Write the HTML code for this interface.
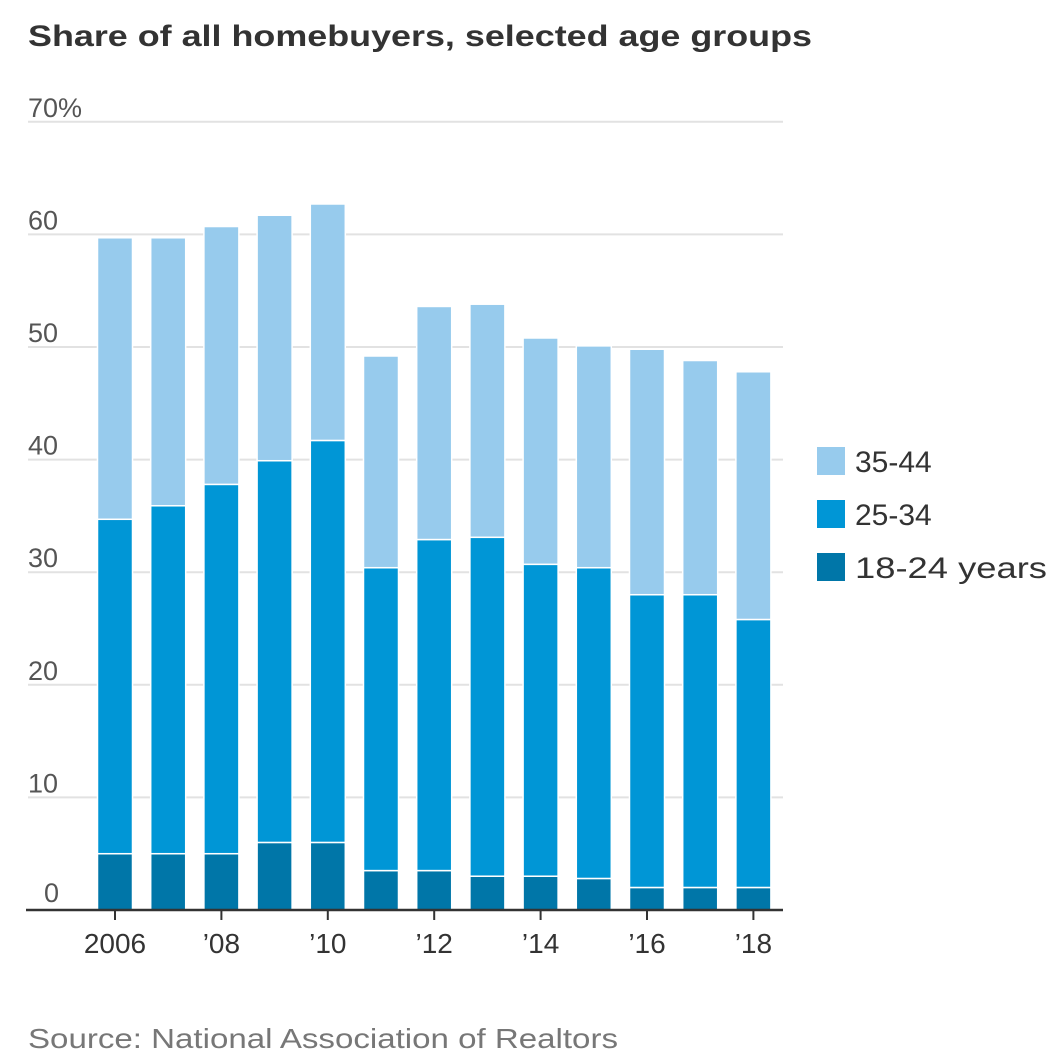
<!DOCTYPE html>
<html><head><meta charset="utf-8"><style>
html,body{margin:0;padding:0;background:#fff;width:1058px;height:1054px;overflow:hidden}
svg text{font-family:"Liberation Sans",sans-serif}
</style></head><body>
<svg id="chart" width="1058" height="1054" xmlns="http://www.w3.org/2000/svg">
<text x="28" y="46" font-size="30" font-weight="bold" fill="#333" textLength="784" lengthAdjust="spacingAndGlyphs">Share of all homebuyers, selected age groups</text>
<g id="grid"></g><g id="bars"></g><g id="axis"></g>
<g>
<rect x="817" y="447" width="28" height="28" fill="#97cbed"/>
<text x="855" y="472" font-size="30" fill="#333">35-44</text>
<rect x="817" y="500" width="28" height="28" fill="#0096d6"/>
<text x="855" y="525" font-size="30" fill="#333">25-34</text>
<rect x="817" y="553" width="28" height="28" fill="#0076a8"/>
<text x="855" y="578" font-size="30" fill="#333" textLength="192" lengthAdjust="spacingAndGlyphs">18-24 years</text>
</g>
<text x="28" y="1048" font-size="28" fill="#777" textLength="590" lengthAdjust="spacingAndGlyphs">Source: National Association of Realtors</text>
</svg>
<script>
const years=[2006,2007,2008,2009,2010,2011,2012,2013,2014,2015,2016,2017,2018];
const age18to24=[5,5,5,6,6,3.5,3.5,3,3,2.8,2,2,2];
const age25to34=[29.7,30.9,32.8,33.9,35.7,26.9,29.4,30.1,27.7,27.6,26,26,23.8];
const age35to44=[25,23.8,22.9,21.8,21,18.8,20.7,20.7,20.1,19.7,21.8,20.8,22];
const yTicks=[0,10,20,30,40,50,60,70];
const xLabels={2006:"2006",2008:"’08",2010:"’10",2012:"’12",2014:"’14",2016:"’16",2018:"’18"};
const NS="http://www.w3.org/2000/svg";
const y0=910,pxPer=11.26,x0=115,step=53.2,bw=35;
const yS=v=>y0-v*pxPer, xS=i=>x0+i*step;
function mk(tag,attrs,parent,txt){const e=document.createElementNS(NS,tag);for(const k in attrs)e.setAttribute(k,attrs[k]);if(txt!=null)e.textContent=txt;parent.appendChild(e);return e;}
const grid=document.getElementById('grid'),bars=document.getElementById('bars'),axis=document.getElementById('axis');
yTicks.forEach(t=>{
 if(t>0){const l=mk('line',{x1:28,x2:783,y1:yS(t),y2:yS(t),stroke:'#e2e2e2','stroke-width':2},grid);
 
 }
 const tx=mk('text',{x:28,y:yS(t)-(t===0?8:5),'font-size':27,fill:'#555'},grid,t===70?'70%':String(t));
 if(t===0)tx.setAttribute('x',44);
 
 
});
const series=[[age18to24,'#0076a8','18-24'],[age25to34,'#0096d6','25-34'],[age35to44,'#97cbed','35-44']];
years.forEach((yr,i)=>{
 let base=0;
 series.forEach(([arr,col,nm])=>{
  const v=arr[i];
  const r=mk('rect',{x:xS(i)-bw/2,y:yS(base+v),width:bw,height:v*pxPer,fill:col,stroke:'#fff','stroke-width':1.5},bars);
  
  
  base+=v;
 });
 if(xLabels[yr]){
  const tk=mk('line',{x1:xS(i),x2:xS(i),y1:y0,y2:y0+10,stroke:'#333','stroke-width':2},axis);
  
  
  const lb=mk('text',{x:xS(i),y:y0+43,'font-size':28,fill:'#333','text-anchor':'middle'},axis,xLabels[yr]);
  
  
 }
});
const ax=mk('line',{x1:26,x2:783,y1:y0,y2:y0,stroke:'#333','stroke-width':2.5},axis);


</script>
</body></html>
